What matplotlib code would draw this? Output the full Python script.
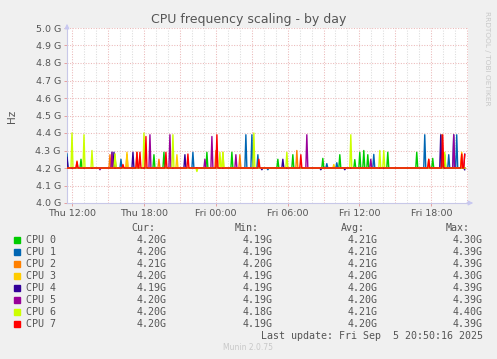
#!/usr/bin/env python3

import numpy as np
import matplotlib
matplotlib.use('Agg')
import matplotlib.pyplot as plt

#-----------------------------------------------------------------------------#
# Data: hours since Thu 12:00, 5 minute samples, values in GHz.
# Each CPU sits at 4.20 G; listed below are the samples that differ.

t_start = -0.39          # Thu ~11:37
t_end = 32.83            # Fri 20:50 (last update)

cpu_names = ['CPU 0', 'CPU 1', 'CPU 2', 'CPU 3',
             'CPU 4', 'CPU 5', 'CPU 6', 'CPU 7']
cpu_colors = ['#00CC00', '#0066B3', '#FF8000', '#FFCC00',
              '#330099', '#990099', '#CCFF00', '#FF0000']
base_value = 4.20

cpu0_hours = [0.78, 3.6, 6.84, 7.68, 11.31, 13.38, 17.23, 18.44, 20.95,
              22.37, 23.6, 24.02, 24.39, 24.66, 26.34, 28.77, 30.08, 31.15]
cpu0_peaks = [4.25, 4.26, 4.276, 4.29, 4.29, 4.29, 4.25, 4.276, 4.255,
              4.276, 4.248, 4.29, 4.30, 4.276, 4.29, 4.29, 4.255, 4.276]

cpu1_hours = [-0.36, 3.35, 4.13, 10.14, 14.55, 15.0, 15.5, 21.31, 22.1,
              25.22, 29.47, 31.48, 31.87, 32.15, 16.4]
cpu1_peaks = [4.28, 4.29, 4.25, 4.29, 4.39, 4.39, 4.276, 4.225, 4.23,
              4.278, 4.39, 4.276, 4.39, 4.39, 4.19]

cpu2_hours = [0.42, 3.21, 4.6, 5.45, 7.3, 12.0, 14.05, 18.8, 29.75,
              30.85, 32.54]
cpu2_peaks = [4.24, 4.276, 4.276, 4.29, 4.25, 4.30, 4.276, 4.30, 4.25,
              4.39, 4.28]

cpu3_hours = [3.63, 4.6, 8.8, 12.65, 21.9, 32.54]
cpu3_peaks = [4.28, 4.29, 4.276, 4.29, 4.22, 4.29]

cpu4_hours = [-0.36, 3.49, 5.11, 9.44, 15.9, 17.6, 20.8, 22.8, 30.8,
              32.95]
cpu4_peaks = [4.26, 4.29, 4.29, 4.276, 4.19, 4.25, 4.19, 4.19, 4.39,
              4.19]

cpu5_hours = [3.35, 6.51, 8.18, 11.12, 11.73, 13.69, 19.58, 24.94,
              31.87, 32.74, 2.4]
cpu5_peaks = [4.29, 4.39, 4.39, 4.25, 4.38, 4.276, 4.39, 4.25,
              4.39, 4.28, 4.19]

cpu6_hours = [0.0, 1.03, 1.73, 3.63, 6.0, 8.46, 10.47, 12.37, 12.65,
              15.17, 17.96, 23.27, 25.7, 26.06, 31.15]
cpu6_peaks = [4.40, 4.39, 4.30, 4.28, 4.40, 4.39, 4.18, 4.29, 4.29,
              4.40, 4.29, 4.39, 4.30, 4.30, 4.29]

cpu7_hours = [0.42, 4.3, 5.45, 5.73, 6.23, 7.9, 9.72, 12.1, 15.64,
              19.13, 29.75, 30.95, 32.54, 32.74]
cpu7_peaks = [4.235, 4.22, 4.29, 4.29, 4.38, 4.29, 4.28, 4.39, 4.25,
              4.276, 4.25, 4.39, 4.28, 4.276]

# Legend table
cur_vals = ['4.20G', '4.20G', '4.21G', '4.20G', '4.19G', '4.20G', '4.20G', '4.20G']
min_vals = ['4.19G', '4.19G', '4.20G', '4.19G', '4.19G', '4.19G', '4.18G', '4.19G']
avg_vals = ['4.21G', '4.21G', '4.21G', '4.20G', '4.20G', '4.20G', '4.21G', '4.20G']
max_vals = ['4.30G', '4.39G', '4.39G', '4.30G', '4.39G', '4.39G', '4.40G', '4.39G']

x_tick_hours = [0, 6, 12, 18, 24, 30]
x_tick_labels = ['Thu 12:00', 'Thu 18:00', 'Fri 00:00',
                 'Fri 06:00', 'Fri 12:00', 'Fri 18:00']
y_ticks = [4.0, 4.1, 4.2, 4.3, 4.4, 4.5, 4.6, 4.7, 4.8, 4.9, 5.0]

#-----------------------------------------------------------------------------#


def build_series(times, hours, peaks):
	''' Puts the listed samples onto the 5 minute time base '''
	values = np.full(len(times), base_value)
	for h, p in zip(hours, peaks):
		values[np.argmin(np.abs(times - h))] = p
	return values


def plot(outputfile='out.png'):
	bg = '#F0F0F0'
	txt = '#555555'
	fig = plt.figure(figsize=(4.97, 3.59), dpi=100, facecolor=bg)
	ax = fig.add_axes([67 / 497, 1 - 203 / 359, 401 / 497, 175 / 359])
	ax.set_facecolor('white')

	times = np.arange(t_start, t_end + 1e-6, 1 / 12)
	all_hours = [cpu0_hours, cpu1_hours, cpu2_hours, cpu3_hours,
	             cpu4_hours, cpu5_hours, cpu6_hours, cpu7_hours]
	all_peaks = [cpu0_peaks, cpu1_peaks, cpu2_peaks, cpu3_peaks,
	             cpu4_peaks, cpu5_peaks, cpu6_peaks, cpu7_peaks]

	for i in range(len(cpu_names)):
		vals = build_series(times, all_hours[i], all_peaks[i])
		ax.plot(times, vals, color=cpu_colors[i], lw=1.0, zorder=3 + i)

	ax.set_xlim(-0.39, 33.05)
	ax.set_ylim(4.0, 5.0)

	# grid: minor every hour, major every 3 hours, horizontal every 0.1 G
	minor_c = '#DCDCDC'
	major_c = '#EBB8B8'
	for h in np.arange(0, 34, 1):
		if h % 3 == 0:
			continue
		ax.axvline(h, color=minor_c, lw=0.75, ls=(0, (1, 1.5)), zorder=1)
	for h in np.arange(0, 34, 3):
		ax.axvline(h, color=major_c, lw=0.75, ls=(0, (1, 1.5)), zorder=2)
	for y in y_ticks[1:]:
		ax.axhline(y, color=major_c, lw=0.75, ls=(0, (1, 1.5)), zorder=2)

	for s in ['top', 'right']:
		ax.spines[s].set_visible(False)
	for s in ['left', 'bottom']:
		ax.spines[s].set_color('#C8C8E8')
		ax.spines[s].set_linewidth(0.8)

	# arrow heads on the axes
	ax.annotate('', xy=(1.02, 0), xytext=(0.99, 0), xycoords='axes fraction',
	            arrowprops=dict(arrowstyle='-|>', color='#C8C8F0', lw=0.8,
	                            mutation_scale=7))
	ax.annotate('', xy=(0, 1.04), xytext=(0, 0.99), xycoords='axes fraction',
	            arrowprops=dict(arrowstyle='-|>', color='#C8C8F0', lw=0.8,
	                            mutation_scale=7))

	ax.set_yticks(y_ticks)
	ax.set_yticklabels(['%.1f G' % v for v in y_ticks])
	ax.set_xticks(x_tick_hours)
	ax.set_xticklabels(x_tick_labels)
	ax.tick_params(axis='both', labelsize=6.8, labelcolor=txt, length=2.5,
	               width=0.7, color='#E5A0A0', pad=2)

	fig.text(0.5, 1 - 19 / 359, 'CPU frequency scaling - by day',
	         ha='center', va='center', fontsize=9, color='#555555')
	fig.text(12 / 497, 1 - 116 / 359, 'Hz', rotation=90, ha='center',
	         va='center', fontsize=7.5, color=txt)
	fig.text(487 / 497, 1 - 58 / 359, 'RRDTOOL / TOBI OETIKER',
	         rotation=270, ha='center', va='center', fontsize=5.3,
	         color='#C8C8C8')

	# legend table
	mono = 'DejaVu Sans Mono'
	fs = 7.2
	cols = [155, 259, 365, 470]
	for x, head in zip(cols, ['Cur:', 'Min:', 'Avg:', 'Max:']):
		fig.text(x / 497, 1 - 228 / 359, head, ha='right', va='center',
		         family=mono, fontsize=fs, color=txt)
	val_cols = [166.7, 272.7, 377.3, 482.7]
	for i in range(len(cpu_names)):
		y = 1 - (240 + 12 * i) / 359
		fig.patches.append(plt.Rectangle((14 / 497, y - 3 / 359), 6 / 497,
		                                 6 / 359, transform=fig.transFigure,
		                                 color=cpu_colors[i]))
		fig.text(26 / 497, y, cpu_names[i], ha='left', va='center',
		         family=mono, fontsize=fs, color=txt)
		row = [cur_vals[i], min_vals[i], avg_vals[i], max_vals[i]]
		for x, v in zip(val_cols, row):
			fig.text(x / 497, y, v, ha='right', va='center', family=mono,
			         fontsize=fs, color=txt)

	fig.text(482.7 / 497, 1 - 335.7 / 359,
	         'Last update: Fri Sep  5 20:50:16 2025', ha='right',
	         va='center', family=mono, fontsize=fs, color=txt)
	fig.text(248 / 497, 1 - 347.7 / 359, 'Munin 2.0.75', ha='center',
	         va='center', fontsize=5.5, color='#C8C8C8')

	fig.savefig(outputfile, dpi=100, facecolor=bg)


if __name__ == "__main__":
	plot()
